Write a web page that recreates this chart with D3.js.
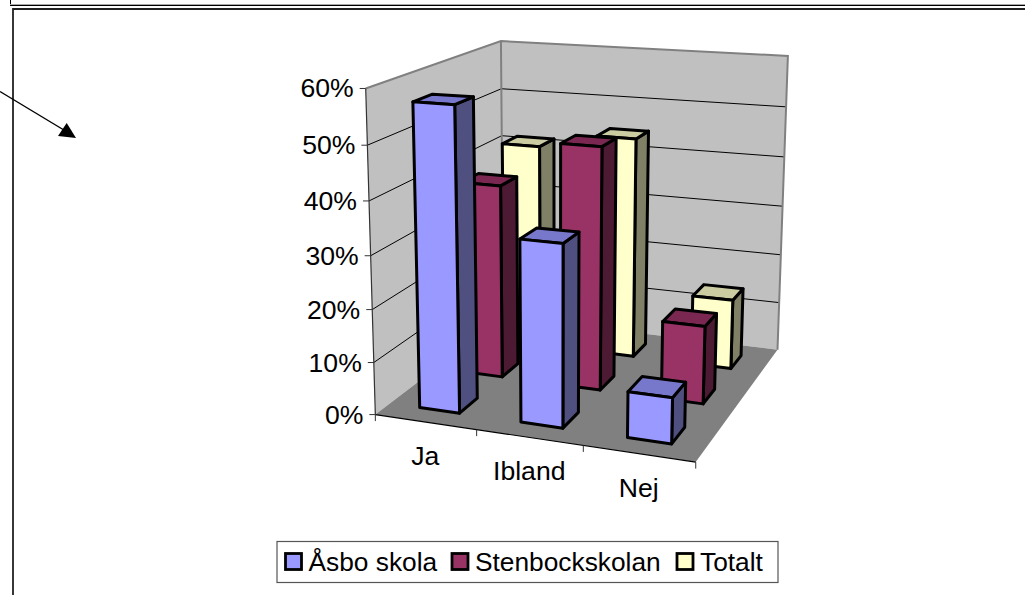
<!DOCTYPE html>
<html><head><meta charset="utf-8">
<script src="https://cdn.jsdelivr.net/npm/d3@7"></script>
<style>html,body{margin:0;padding:0;background:#fff;overflow:hidden}svg{display:block}text{font-family:"Liberation Sans",Arial,sans-serif;fill:#000}</style>
</head><body><svg id="c" width="1025" height="595"></svg>
<script>
const categories = ["Ja","Ibland","Nej"];
const seriesNames = ["Åsbo skola","Stenbockskolan","Totalt"];
const asbo = [0.57,0.34,0.085];
const stenbock = [0.38,0.47,0.15];
const totalt = [0.415,0.445,0.14];
const valueTicks = [0,0.1,0.2,0.3,0.4,0.5,0.6];
const faceColors = [
  {front:"#9999FF",top:"#7777CC",side:"#4F4F80"},
  {front:"#993366",top:"#7A2852",side:"#4D1A33"},
  {front:"#FFFFCC",top:"#CCCCA3",side:"#808066"}
];
const seriesValues = [asbo,stenbock,totalt];

// Perspective camera fitted to the picture's box corners: [x,y,z] unit box -> pixel
const anchors = [
 [[0,0,0],[376.7,415.7]],[[1,0,0],[695,461.7]],[[0,0,1],[502,316]],[[1,0,1],[778.3,350]],
 [[0,1,0],[365,87.7]],[[0,1,1],[501.7,41.7]],[[1,1,1],[787.7,56]]
];
function fitCamera(pts){
  const rows=[],rhs=[];
  pts.forEach(([[x,y,z],[px,py]])=>{
    rows.push([x,y,z,1,0,0,0,0,-px*x,-px*y,-px*z]);rhs.push(px);
    rows.push([0,0,0,0,x,y,z,1,-py*x,-py*y,-py*z]);rhs.push(py);
  });
  const n=11,M=d3.range(n).map(i=>d3.range(n+1).map(j=>0));
  rows.forEach((r,k)=>{for(let i=0;i<n;i++){for(let j=0;j<n;j++)M[i][j]+=r[i]*r[j];M[i][n]+=r[i]*rhs[k];}});
  for(let i=0;i<n;i++){
    let p=i;for(let k=i+1;k<n;k++)if(Math.abs(M[k][i])>Math.abs(M[p][i]))p=k;
    [M[i],M[p]]=[M[p],M[i]];
    for(let k=0;k<n;k++){if(k===i)continue;const f=M[k][i]/M[i][i];for(let j=i;j<=n;j++)M[k][j]-=f*M[i][j];}
  }
  return M.map((r,i)=>r[n]/r[i]);
}
const C=fitCamera(anchors);
function project(x,y,z){
  const w=C[8]*x+C[9]*y+C[10]*z+1;
  return [(C[0]*x+C[1]*y+C[2]*z+C[3])/w,(C[4]*x+C[5]*y+C[6]*z+C[7])/w];
}
const xScale=d3.scaleBand().domain(categories).range([0,1]).paddingInner(0.6).paddingOuter(0.3);
const zScale=d3.scaleBand().domain(seriesNames).range([0,1]).paddingInner(0.6).paddingOuter(0.3);
const yScale=d3.scaleLinear().domain([0,0.6]).range([0,1]);
const xEdge=d3.scalePoint().domain(d3.range(categories.length+1)).range([0,1]);

const svg=d3.select("#c");
svg.append("rect").attr("width",1025).attr("height",595).attr("fill","#fff");
const line=d3.line();
const poly=(g,pts,fill,stroke,sw)=>g.append("path").attr("d",line(pts)+"Z").attr("fill",fill)
  .attr("stroke",stroke||"none").attr("stroke-width",sw||0).attr("stroke-linejoin","round");
const seg=(g,a,b,stroke,sw)=>g.append("path").attr("d",line([a,b])).attr("stroke",stroke).attr("stroke-width",sw).attr("fill","none");

// page frames left over from the source document
seg(svg,[10.5,0],[10.5,5],"#000",1);
seg(svg,[10,4.5],[1025,4.5],"#aaa",1);
seg(svg,[10,5.5],[1025,5.5],"#000",1);
svg.append("path").attr("d","M13,595V9H1025").attr("fill","none").attr("stroke","#222").attr("stroke-width",1.8);
// arrow
seg(svg,[0,91.5],[68,132.5],"#000",1.4);
poly(svg,[[76,138],[66.7,123],[58,136]],"#000");

const plot=svg.append("g");
// walls and floor
poly(plot,[project(0,0,0),project(0,1,0),project(0,1,1),project(0,0,1)],"#C0C0C0");
poly(plot,[project(0,0,1),project(0,1,1),project(1,1,1),project(1,0,1)],"#C0C0C0");
poly(plot,[project(0,0,0),project(1,0,0),project(1,0,1),project(0,0,1)],"#808080");
// gridlines
valueTicks.slice(1,-1).forEach(v=>{
  const y=yScale(v);
  seg(plot,project(0,y,0),project(0,y,1),"#000",1);
  seg(plot,project(0,y,1),project(1,y,1),"#000",1);
});
// wall edges
plot.append("path").attr("d",line([project(0,1,0),project(0,1,1),project(1,1,1),project(1,0,1)]))
  .attr("fill","none").attr("stroke","#808080").attr("stroke-width",2);
seg(plot,project(0,0,1),project(0,1,1),"#808080",2);
// axes
seg(plot,project(0,0,0),project(0,1,0),"#333",1.2);
seg(plot,project(0,0,0),project(1,0,0),"#000",1.2);
valueTicks.forEach(v=>{
  const p=project(0,yScale(v),0);
  seg(plot,[p[0]-6,p[1]],p,"#333",1);
  plot.append("text").attr("x",p[0]-12).attr("y",p[1]+9).attr("text-anchor","end")
    .attr("font-size",26.6).text(d3.format(".0%")(v));
});
xEdge.domain().forEach(i=>{
  const p=project(xEdge(i),0,0);
  seg(plot,p,[p[0],p[1]+6.5],"#333",1);
});
categories.forEach(c=>{
  const p=project(xScale(c)+xScale.bandwidth()/2,0,0);
  plot.append("text").attr("x",p[0]).attr("y",p[1]+43).attr("text-anchor","middle")
    .attr("font-size",26.6).text(c);
});
// bars, back to front
d3.range(seriesNames.length-1,-1,-1).forEach(si=>{
  const z0=zScale(seriesNames[si]),z1=z0+zScale.bandwidth();
  categories.forEach((c,ci)=>{
    const x0=xScale(c),x1=x0+xScale.bandwidth(),h=yScale(seriesValues[si][ci]);
    const col=faceColors[si],g=plot.append("g");
    poly(g,[project(x1,0,z0),project(x1,h,z0),project(x1,h,z1),project(x1,0,z1)],col.side,"#000",3);
    poly(g,[project(x0,h,z0),project(x0,h,z1),project(x1,h,z1),project(x1,h,z0)],col.top,"#000",3);
    poly(g,[project(x0,0,z0),project(x0,h,z0),project(x1,h,z0),project(x1,0,z0)],col.front,"#000",3);
  });
});
// legend
const lg=svg.append("g");
lg.append("rect").attr("x",277).attr("y",541.5).attr("width",501).attr("height",41).attr("fill","#fff").attr("stroke","#555").attr("stroke-width",1.2);
const swatchX=d3.scaleOrdinal().domain(seriesNames).range([285.5,452,677]);
seriesNames.forEach((s,i)=>{
  lg.append("rect").attr("x",swatchX(s)).attr("y",553.5).attr("width",16).attr("height",16)
    .attr("fill",faceColors[i].front).attr("stroke","#000").attr("stroke-width",2.8);
  lg.append("text").attr("x",swatchX(s)+23).attr("y",570.5).attr("font-size",26.3).text(s);
});
</script></body></html>
